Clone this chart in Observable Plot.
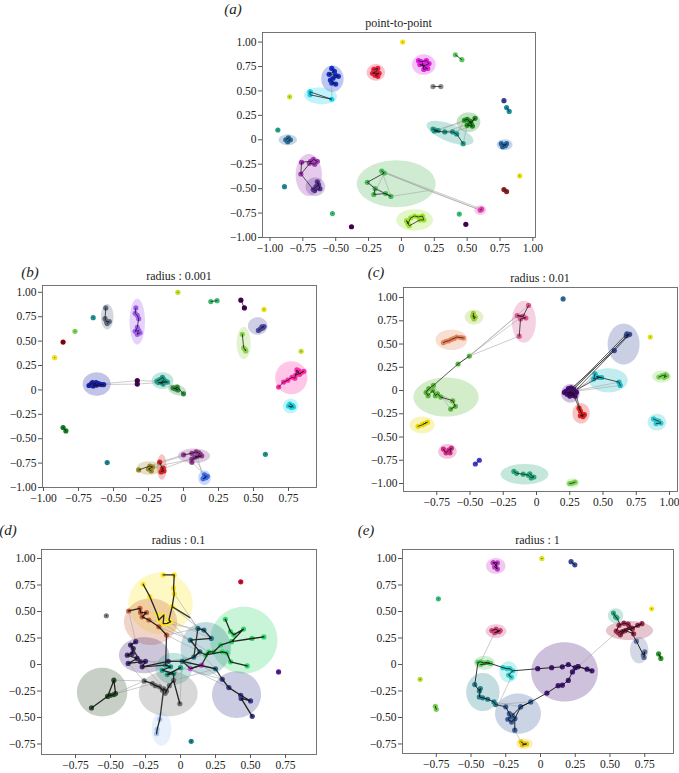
<!DOCTYPE html>
<html><head><meta charset="utf-8">
<script src="https://cdn.jsdelivr.net/npm/d3@7"></script>
<script src="https://cdn.jsdelivr.net/npm/@observablehq/plot@0.6"></script>
<style>
body{margin:0;background:#fff;}
#fig{position:relative;width:679px;height:773px;font-family:"Liberation Serif","DejaVu Serif",serif;color:#222;overflow:hidden;}
.pl{position:absolute;}
.lab{position:absolute;font-style:italic;font-size:15px;transform:translate(-50%,-50%);white-space:nowrap;}
.ttl{position:absolute;font-size:12px;transform:translate(-50%,-50%);white-space:nowrap;}
</style></head><body><div id="fig"></div>
<script>
// ---------- Panel (a) point-to-point ----------
const colA = {mag:"#e21ee2",red:"#e8213c",blue:"#1530c8",cyan:"#19d3f0",steel:"#2d6d9a",purple:"#a23cb4",indigo:"#5a3296",bigGreen:"#4cba5a",lime:"#9be02d",teal:"#1f9a8a",dgreen:"#1d8c1d",pink:"#e040b0",rblue:"#2565a8",
  yel:"#f7e11a",gpair:"#5ec962",gray:"#8a8a8a",yg:"#c8e020",teal1:"#20a386",teal2:"#1f8a9a",green1:"#3cbb75",dpp1:"#440154",green2:"#3cbb75",dpp2:"#440154",navy:"#3b3b8f",tpair:"#1f8f9f",yel2:"#e2e21a",brown:"#8b2020"};
const ellA = [
 ["mag",0.17,0.77,0.09,0.105,0],["red",-0.195,0.69,0.07,0.085,0],["blue",-0.525,0.625,0.085,0.135,0],
 ["cyan",-0.615,0.45,0.125,0.085,-5],["steel",-0.865,0.0,0.07,0.055,0],["purple",-0.705,-0.36,0.1,0.215,0],
 ["indigo",-0.655,-0.48,0.075,0.095,0],["bigGreen",-0.04,-0.45,0.3,0.24,0],["lime",0.1,-0.82,0.14,0.11,0],
 ["teal",0.37,0.07,0.2,0.085,-30],["dgreen",0.51,0.18,0.09,0.1,0],["pink",0.6,-0.72,0.045,0.05,0],["rblue",0.785,-0.05,0.06,0.055,0]
];
const ptsA = [
 ["mag",0.13,0.81],["mag",0.15,0.80],["mag",0.19,0.81],["mag",0.21,0.78],["mag",0.18,0.76],["mag",0.14,0.77],["mag",0.2,0.73],["mag",0.17,0.72],["mag",0.16,0.785],
 ["red",-0.21,0.72],["red",-0.18,0.73],["red",-0.19,0.70],["red",-0.22,0.68],["red",-0.17,0.68],["red",-0.2,0.66],["red",-0.18,0.65],
 ["blue",-0.53,0.73],["blue",-0.51,0.70],["blue",-0.55,0.67],["blue",-0.5,0.66],["blue",-0.48,0.65],["blue",-0.52,0.63],["blue",-0.54,0.61],["blue",-0.5,0.57],["blue",-0.53,0.58],
 ["cyan",-0.695,0.49],["cyan",-0.695,0.46],["cyan",-0.53,0.415],["cyan",-0.695,0.49],
 ["steel",-0.88,0.0],["steel",-0.86,0.02],["steel",-0.845,0.0],["steel",-0.865,-0.02],
 ["purple",-0.69,-0.22],["purple",-0.76,-0.23],["purple",-0.765,-0.35],["purple",-0.67,-0.20],["purple",-0.64,-0.22],["purple",-0.66,-0.25],["purple",-0.7,-0.24],
 ["indigo",-0.67,-0.51],["indigo",-0.65,-0.48],["indigo",-0.63,-0.46],["indigo",-0.64,-0.43],["indigo",-0.62,-0.5],["indigo",-0.66,-0.52],
 ["bigGreen",-0.15,-0.32],["bigGreen",-0.13,-0.34],["bigGreen",-0.26,-0.435],["bigGreen",-0.2,-0.5],["bigGreen",-0.21,-0.56],["bigGreen",-0.12,-0.55],["bigGreen",-0.08,-0.58],
 ["lime",0.04,-0.83],["lime",0.05,-0.86],["lime",0.07,-0.8],["lime",0.1,-0.78],["lime",0.13,-0.79],["lime",0.16,-0.78],["lime",0.17,-0.82],["lime",0.14,-0.82],["lime",0.06,-0.88],["lime",0.04,-0.83],
 ["teal",0.24,0.11],["teal",0.26,0.1],["teal",0.28,0.095],["teal",0.25,0.09],["teal",0.33,0.08],["teal",0.39,0.08],["teal",0.42,0.06],["teal",0.47,-0.04],
 ["dgreen",0.48,0.2],["dgreen",0.5,0.21],["dgreen",0.53,0.17],["dgreen",0.56,0.22],["dgreen",0.5,0.15],["dgreen",0.54,0.14],["dgreen",0.52,0.19],
 ["pink",0.6,-0.72],["pink",0.61,-0.71],
 ["rblue",0.76,-0.04],["rblue",0.79,-0.06],["rblue",0.8,-0.04],["rblue",0.77,-0.07],
 ["yel",0.01,1.0],["gpair",0.41,0.87],["gpair",0.46,0.82],["gray",0.24,0.545],["gray",0.30,0.545],["yg",-0.85,0.44],
 ["teal1",-0.94,0.1],["teal2",-0.89,-0.48],["green1",-0.525,-0.755],["dpp1",-0.38,-0.89],["green2",0.44,-0.76],["dpp2",0.49,-0.865],
 ["navy",0.78,0.40],["tpair",0.80,0.33],["tpair",0.82,0.29],["yel2",0.9,-0.37],["brown",0.78,-0.51],["brown",0.8,-0.53]
];
const grayA = [
 [0.28,0.095,0.5,0.21],[0.33,0.08,0.53,0.17],[0.39,0.08,0.54,0.14],[0.47,-0.04,0.5,0.15],[0.42,0.06,0.48,0.2],[0.26,0.1,0.56,0.22],
 [0.205,-0.52,0.6,-0.72],[-0.13,-0.34,0.6,-0.72],[-0.15,-0.32,0.61,-0.71],
 [-0.15,-0.32,-0.08,-0.58],[-0.13,-0.34,-0.21,-0.56],[-0.26,-0.435,-0.12,-0.55],[-0.15,-0.32,0.205,-0.52],[-0.08,-0.58,0.205,-0.52],
 [-0.53,0.415,-0.53,0.58]
];
const blackA = [[-0.765,-0.35,-0.67,-0.51],[-0.2,-0.5,-0.08,-0.58]];

// ---------- Panel (b) radius : 0.001 ----------
const colB = {slate:"#5f6b7f",violet:"#a35cf0",slateblue:"#4a4aa0",lgreen:"#8fd14f",pink:"#ff2ba6",cyan:"#19d5e5",navy:"#1a22a8",teal:"#1f9e89",green:"#2e8b3a",plum:"#8e3b8e",red:"#d62728",olive:"#9c8b2a",rblue:"#3d6ff0",
  yg1:"#c2df23",gpair:"#3dbc74",dpp:"#440154",yel1:"#e6e419",teal1:"#21918c",lg1:"#7ad151",maroon:"#7a0a0a",yel2:"#f0e020",yg2:"#c2df23",teal2:"#21918c",dgpair:"#0f7f1f",teal3:"#1f7f8f",dpp2:"#440154"};
const ellB = [
 ["slate",-0.545,0.75,0.045,0.13,0],["violet",-0.33,0.70,0.055,0.235,0],["slateblue",0.53,0.655,0.07,0.09,0],
 ["lgreen",0.43,0.48,0.05,0.165,0],["pink",0.77,0.125,0.115,0.17,0],["cyan",0.765,-0.165,0.055,0.075,0],
 ["navy",-0.62,0.06,0.1,0.12,0],["teal",-0.15,0.095,0.078,0.085,0],["green",-0.045,0.0,0.07,0.05,-35],
 ["plum",0.075,-0.675,0.115,0.075,0],["red",-0.155,-0.79,0.035,0.13,0],["olive",-0.245,-0.8,0.09,0.07,0],["rblue",0.15,-0.9,0.045,0.075,0]
];
const ptsB = [
 ["slate",-0.555,0.84],["slate",-0.56,0.73],["slate",-0.55,0.70],["slate",-0.53,0.70],["slate",-0.545,0.68],
 ["violet",-0.34,0.84],["violet",-0.345,0.785],["violet",-0.33,0.765],["violet",-0.32,0.73],["violet",-0.33,0.64],["violet",-0.345,0.6],["violet",-0.32,0.61],["violet",-0.33,0.57],["violet",-0.31,0.585],
 ["slateblue",0.535,0.61],["slateblue",0.55,0.625],["slateblue",0.56,0.645],["slateblue",0.575,0.65],["slateblue",0.565,0.635],
 ["lgreen",0.42,0.57],["lgreen",0.43,0.43],["lgreen",0.445,0.40],["lgreen",0.44,0.415],
 ["pink",0.68,0.03],["pink",0.715,0.08],["pink",0.745,0.1],["pink",0.775,0.13],["pink",0.795,0.12],["pink",0.81,0.205],["pink",0.83,0.16],["pink",0.845,0.18],["pink",0.86,0.19],["pink",0.8,0.15],["pink",0.825,0.195],
 ["cyan",0.76,-0.145],["cyan",0.78,-0.16],["cyan",0.77,-0.18],["cyan",0.75,-0.165],["cyan",0.785,-0.175],
 ["navy",-0.675,0.045],["navy",-0.66,0.06],["navy",-0.65,0.075],["navy",-0.64,0.055],["navy",-0.63,0.065],["navy",-0.62,0.05],["navy",-0.61,0.065],["navy",-0.6,0.06],["navy",-0.585,0.055],["navy",-0.57,0.055],["navy",-0.645,0.04],["navy",-0.625,0.075],
 ["teal",-0.19,0.09],["teal",-0.17,0.105],["teal",-0.15,0.13],["teal",-0.14,0.105],["teal",-0.16,0.075],["teal",-0.13,0.09],["teal",-0.115,0.08],["teal",-0.18,0.075],["teal",-0.145,0.06],
 ["green",-0.075,0.02],["green",-0.055,0.01],["green",-0.04,0.0],["green",-0.06,0.015],["green",-0.045,0.03],["green",0.0,-0.04],
 ["plum",0.0,-0.665],["plum",0.06,-0.65],["plum",0.09,-0.635],["plum",0.11,-0.645],["plum",0.12,-0.66],["plum",0.1,-0.68],["plum",0.08,-0.69],["plum",0.13,-0.675],["plum",0.06,-0.71],["plum",0.06,-0.74],
 ["red",-0.17,-0.74],["red",-0.15,-0.81],["red",-0.14,-0.83],["red",-0.16,-0.84],["red",-0.145,-0.8],
 ["olive",-0.32,-0.82],["olive",-0.24,-0.78],["olive",-0.22,-0.79],["olive",-0.25,-0.81],["olive",-0.23,-0.83],
 ["rblue",0.15,-0.87],["rblue",0.16,-0.9],["rblue",0.14,-0.91],["rblue",0.17,-0.885],
 ["yg1",-0.04,1.0],["gpair",0.195,0.905],["gpair",0.24,0.915],["dpp",0.41,0.92],["dpp",0.435,0.84],["yel1",0.575,0.825],
 ["teal1",-0.645,0.74],["lg1",-0.775,0.6],["maroon",-0.86,0.49],["yel2",-0.92,0.33],["yg2",0.84,0.395],["teal2",0.585,-0.66],
 ["dgpair",-0.86,-0.385],["dgpair",-0.84,-0.42],["teal3",-0.545,-0.745],["dpp2",-0.33,0.095],["dpp2",-0.33,0.06]
];
const grayB = [
 [-0.57,0.055,-0.33,0.06],[-0.6,0.06,-0.33,0.095],[-0.33,0.095,-0.19,0.09],[-0.33,0.06,-0.18,0.075],[-0.115,0.08,-0.075,0.02],
 [-0.24,-0.78,0.06,-0.65],[-0.22,-0.79,0.06,-0.71],[-0.15,-0.81,0.08,-0.69],[-0.17,-0.74,0.0,-0.665],
 [0.06,-0.74,0.15,-0.87],[0.08,-0.69,0.16,-0.9],[0.1,-0.68,0.14,-0.91],[-0.22,-0.79,-0.15,-0.81]
];
const blackB = [];

// ---------- Panel (c) radius : 0.01 ----------
const colC = {lg:"#9acd32",pink:"#d9598f",salmon:"#e8845a",green:"#5cb83c",yellow:"#e6d800",mag:"#d6298a",tg:"#2aa87a",lg2:"#7ad151",dblue:"#3b4c9a",cyan:"#1fb8c4",purple:"#4b0a7a",red:"#e02020",lg3:"#7ad151",cyan2:"#2ec4d0",
  blue1:"#31688e",yel1:"#e2e418",green2:"#5cb83c",bpair:"#4040d0"};
const ellC = [
 ["lg",-0.47,0.79,0.07,0.08,0],["pink",-0.095,0.74,0.09,0.225,0],["salmon",-0.64,0.545,0.12,0.11,0],
 ["green",-0.68,-0.07,0.245,0.21,0],["yellow",-0.86,-0.37,0.095,0.09,0],["mag",-0.67,-0.655,0.07,0.08,0],
 ["tg",-0.09,-0.9,0.18,0.11,0],["lg2",0.27,-0.995,0.05,0.05,0],["dblue",0.655,0.5,0.12,0.22,0],
 ["cyan",0.54,0.11,0.145,0.13,0],["purple",0.255,-0.03,0.07,0.1,0],["red",0.335,-0.245,0.065,0.11,0],
 ["lg3",0.94,0.15,0.07,0.065,0],["cyan2",0.905,-0.34,0.07,0.09,0]
];
const ptsC = [
 ["lg",-0.475,0.83],["lg",-0.47,0.77],["lg",-0.46,0.79],["lg",-0.48,0.8],
 ["pink",-0.06,0.915],["pink",-0.1,0.8],["pink",-0.145,0.805],["pink",-0.11,0.795],["pink",-0.08,0.78],["pink",-0.12,0.77],["pink",-0.13,0.585],
 ["salmon",-0.7,0.515],["salmon",-0.68,0.53],["salmon",-0.66,0.535],["salmon",-0.64,0.55],["salmon",-0.62,0.56],["salmon",-0.6,0.575],["salmon",-0.57,0.57],["salmon",-0.55,0.565],
 ["green",-0.775,0.055],["green",-0.81,0.02],["green",-0.83,-0.02],["green",-0.815,-0.055],["green",-0.78,0.0],["green",-0.76,-0.055],["green",-0.745,-0.035],["green",-0.72,-0.07],["green",-0.63,-0.11],["green",-0.61,-0.17],["green",-0.645,-0.2],
 ["yellow",-0.89,-0.385],["yellow",-0.86,-0.37],["yellow",-0.84,-0.355],["yellow",-0.82,-0.34],["yellow",-0.85,-0.36],
 ["mag",-0.7,-0.63],["mag",-0.68,-0.67],["mag",-0.66,-0.64],["mag",-0.64,-0.62],["mag",-0.65,-0.67],
 ["tg",-0.17,-0.87],["tg",-0.15,-0.89],["tg",-0.1,-0.9],["tg",-0.06,-0.91],["tg",-0.04,-0.94],["tg",-0.02,-0.93],["tg",-0.05,-0.895],
 ["lg2",0.25,-1.0],["lg2",0.27,-0.995],["lg2",0.29,-0.985],
 ["dblue",0.68,0.61],["dblue",0.69,0.6],["dblue",0.675,0.59],["dblue",0.7,0.605],["dblue",0.585,0.43],
 ["cyan",0.44,0.18],["cyan",0.43,0.125],["cyan",0.47,0.14],["cyan",0.49,0.14],["cyan",0.45,0.15],["cyan",0.62,0.09],["cyan",0.63,0.055],
 ["purple",0.22,-0.01],["purple",0.24,0.02],["purple",0.26,0.03],["purple",0.28,0.01],["purple",0.3,-0.02],["purple",0.27,-0.05],["purple",0.25,-0.06],["purple",0.23,-0.04],["purple",0.29,-0.06],["purple",0.26,-0.01],["purple",0.24,-0.03],["purple",0.28,-0.03],["purple",0.21,-0.02],
 ["red",0.32,-0.19],["red",0.33,-0.22],["red",0.34,-0.25],["red",0.35,-0.28],["red",0.33,-0.27],["red",0.36,-0.26],
 ["lg3",0.92,0.145],["lg3",0.945,0.16],["lg3",0.97,0.17],["lg3",0.96,0.14],["lg3",0.98,0.155],
 ["cyan2",0.88,-0.305],["cyan2",0.9,-0.32],["cyan2",0.92,-0.33],["cyan2",0.935,-0.35],["cyan2",0.9,-0.355],
 ["blue1",0.2,0.985],["yel1",0.855,0.575],["green2",-0.59,0.285],["green2",-0.505,0.37],["bpair",-0.46,-0.79],["bpair",-0.43,-0.75]
];
const grayC = [
 [-0.505,0.37,-0.06,0.915],[-0.505,0.37,-0.145,0.805],[-0.505,0.37,-0.13,0.585],[-0.59,0.285,-0.11,0.795],
 [-0.775,0.055,-0.645,-0.2],[-0.745,-0.035,-0.61,-0.17],[-0.78,0.0,-0.63,-0.11],
 [0.3,-0.02,0.44,0.18],[0.3,0.0,0.62,0.09],[0.28,-0.01,0.63,0.055],[0.29,0.01,0.43,0.125]
];
const blackC = [
 [-0.59,0.285,-0.775,0.055],[0.3,0.01,0.585,0.43],[0.28,0.03,0.68,0.61],[0.27,0.0,0.69,0.6],[0.26,0.02,0.585,0.43],
 [0.28,-0.05,0.32,-0.19],[0.3,-0.06,0.33,-0.22],[0.29,0.0,0.47,0.14]
];

// ---------- Panel (d) radius : 0.1 ----------
const colD = {yellow:"#fde725",sienna:"#c8603c",sgreen:"#35d86a",tblue:"#2a788e",indigo:"#472c7a",tgreen:"#1fa187",gray:"#6e6e6e",dgreen:"#2f4f2f",slate:"#3e3e8f",lblue:"#a8c8f0",
  mgn:"#e040e0",gray1:"#7f7f7f",crimson:"#c8102e",purp:"#5b1f8a",teal:"#1f7f8f"};
const ellD = [
 ["yellow",-0.143,0.577,0.23,0.29,0],["sienna",-0.214,0.404,0.19,0.22,0],["sgreen",0.452,0.23,0.24,0.315,0],
 ["tblue",0.18,0.15,0.18,0.25,0],["indigo",-0.26,0.088,0.18,0.17,0],["tgreen",-0.048,-0.04,0.13,0.15,0],
 ["gray",-0.088,-0.274,0.21,0.215,0],["dgreen",-0.56,-0.26,0.18,0.23,0],["slate",0.4,-0.284,0.175,0.22,0],["lblue",-0.136,-0.606,0.07,0.16,0]
];
const ptsD = [
 ["yellow",-0.124,0.845],["yellow",-0.045,0.845],["yellow",-0.05,0.72],["yellow",-0.045,0.666],["yellow",-0.06,0.546],["yellow",-0.083,0.42],["yellow",-0.07,0.404],["yellow",-0.095,0.388],["yellow",-0.124,0.385],["yellow",-0.119,0.467],["yellow",-0.155,0.42],["yellow",-0.167,0.473],["yellow",-0.219,0.64],["yellow",-0.267,0.757],
 ["sienna",-0.37,0.505],["sienna",-0.29,0.53],["sienna",-0.286,0.49],["sienna",-0.243,0.49],["sienna",-0.274,0.45],["sienna",-0.226,0.42],["sienna",-0.155,0.356],["sienna",-0.1,0.278],
 ["sgreen",0.32,0.426],["sgreen",0.357,0.31],["sgreen",0.38,0.28],["sgreen",0.45,0.334],["sgreen",0.364,0.215],["sgreen",0.51,0.246],["sgreen",0.595,0.26],["sgreen",0.364,0.215],["sgreen",0.286,0.183],["sgreen",0.238,0.12],["sgreen",0.202,0.12],["sgreen",0.18,0.09],["sgreen",0.298,0.12],["sgreen",0.33,0.11],["sgreen",0.357,0.025],["sgreen",0.476,-0.013],
 ["tblue",0.124,0.34],["tblue",0.167,0.325],["tblue",0.22,0.246],["tblue",0.07,0.23],["tblue",0.138,0.12],["tblue",0.095,0.07],["tblue",0.012,0.03],["tblue",0.25,-0.04],
 ["indigo",-0.32,0.215],["indigo",-0.357,0.183],["indigo",-0.338,0.15],["indigo",-0.345,0.104],["indigo",-0.38,0.088],["indigo",-0.31,0.057],["indigo",-0.374,0.01],["indigo",-0.286,0.025],["indigo",-0.25,0.03],["indigo",-0.274,-0.022],["indigo",-0.088,0.03],
 ["tgreen",-0.107,-0.006],["tgreen",-0.071,-0.022],["tgreen",-0.131,-0.054],["tgreen",-0.048,-0.085],["tgreen",-0.095,-0.095],["tgreen",0.0,-0.03],
 ["mgn",0.07,-0.038],["mgn",0.15,-0.006],
 ["gray",-0.26,-0.155],["gray",-0.2,-0.18],["gray",-0.18,-0.2],["gray",-0.15,-0.21],["gray",-0.13,-0.24],["gray",-0.12,-0.23],["gray",-0.1,-0.25],["gray",-0.11,-0.27],["gray",-0.08,-0.2],["gray",-0.05,-0.15],["gray",-0.005,-0.37],
 ["dgreen",-0.636,-0.41],["dgreen",-0.52,-0.3],["dgreen",-0.5,-0.29],["dgreen",-0.476,-0.284],["dgreen",-0.464,-0.274],["dgreen",-0.476,-0.148],["dgreen",-0.52,-0.3],
 ["slate",0.298,-0.139],["slate",0.345,-0.218],["slate",0.43,-0.29],["slate",0.5,-0.344],["slate",0.433,-0.32],["slate",0.512,-0.489],
 ["lblue",-0.148,-0.517],["lblue",-0.167,-0.612],["lblue",-0.171,-0.653],
 ["gray1",-0.53,0.46],["crimson",0.43,0.78],["purp",0.7,-0.07],["teal",0.076,-0.725]
];
const grayD = [
 [-0.1,0.278,0.124,0.34],[-0.1,0.278,0.138,0.12],[-0.155,0.356,0.07,0.23],[-0.083,0.42,0.22,0.246],[-0.07,0.404,0.25,-0.04],[-0.124,0.385,0.2,0.12],
 [-0.26,-0.155,-0.374,0.01],[-0.26,-0.155,-0.464,-0.274],[-0.26,-0.155,-0.476,-0.148],[-0.2,-0.18,-0.5,-0.29],[-0.1,-0.25,0.012,0.03],[-0.005,-0.37,0.012,0.03],
 [-0.05,-0.15,0.25,-0.04],[-0.05,-0.15,0.138,0.12],[0.0,-0.03,0.298,-0.139],[0.07,-0.038,0.345,-0.218],[0.15,-0.006,0.298,-0.139],[-0.088,0.03,0.18,0.09],
 [-0.25,0.03,0.012,0.03],[-0.31,0.057,-0.107,-0.006],[0.07,0.44,0.124,0.34],[-0.045,0.666,0.124,0.34],[-0.286,0.025,-0.1,-0.25],[-0.37,0.505,-0.32,0.215],
 [-0.226,0.42,0.167,0.325],[-0.06,0.546,0.22,0.246]
];
const blackD = [
 [-0.12,-0.23,-0.148,-0.517],[-0.06,0.546,0.07,0.44],[-0.1,0.278,-0.107,-0.006],[-0.088,0.03,0.012,0.03],[0.012,0.03,0.07,-0.038],[0.07,-0.038,0.15,-0.006],
 [0.15,-0.006,0.202,0.12],[0.138,0.12,0.18,0.09],[0.095,0.07,0.138,0.12],[-0.048,-0.085,-0.05,-0.15],[0.124,0.34,0.095,0.07],[0.25,-0.04,0.298,-0.139],
 [-0.274,-0.022,-0.107,-0.006],[-0.357,0.183,-0.286,0.025]
];

// ---------- Panel (e) radius : 1 ----------
const colE = {mag:"#c43cc8",tg:"#2ea880",maroon:"#a0284a",slate:"#6070a0",pink:"#d0407a",lgreen:"#5ec962",cyan:"#30d0d0",purple:"#46197a",teal:"#26828e",steel:"#3a5f9a",yellow:"#e6c800",
  yel1:"#d8e219",navy:"#3b4c9a",green1:"#3cbb75",yel2:"#f5e51b",gpair:"#2a9a2a",yg:"#b5de2b",lgpair:"#7ad151"};
const ellE = [
 ["mag",-0.322,0.93,0.07,0.075,0],["tg",0.54,0.46,0.055,0.07,0],["maroon",0.64,0.32,0.17,0.09,0],
 ["slate",0.71,0.135,0.066,0.125,0],["pink",-0.32,0.315,0.075,0.065,0],["lgreen",-0.404,0.016,0.075,0.065,0],
 ["cyan",-0.23,-0.07,0.066,0.1,0],["purple",0.173,-0.07,0.24,0.28,0],["teal",-0.415,-0.26,0.12,0.18,0],
 ["steel",-0.162,-0.464,0.165,0.19,0],["yellow",-0.115,-0.748,0.06,0.05,0]
];
const ptsE = [
 ["mag",-0.34,0.96],["mag",-0.31,0.96],["mag",-0.33,0.92],["mag",-0.31,0.9],["mag",-0.32,0.94],["mag",-0.34,0.96],
 ["tg",0.525,0.485],["tg",0.54,0.45],["tg",0.55,0.44],
 ["maroon",0.545,0.315],["maroon",0.565,0.37],["maroon",0.6,0.39],["maroon",0.63,0.38],["maroon",0.66,0.34],["maroon",0.7,0.37],["maroon",0.73,0.385],["maroon",0.66,0.34],["maroon",0.59,0.31],["maroon",0.575,0.28],["maroon",0.61,0.32],["maroon",0.67,0.29],["maroon",0.64,0.35],["maroon",0.56,0.3],
 ["slate",0.69,0.22],["slate",0.74,0.09],["slate",0.75,0.12],["slate",0.745,0.066],
 ["pink",-0.35,0.32],["pink",-0.32,0.335],["pink",-0.3,0.31],["pink",-0.33,0.3],["pink",-0.29,0.32],["pink",-0.31,0.315],
 ["lgreen",-0.45,0.02],["lgreen",-0.43,0.025],["lgreen",-0.41,0.015],["lgreen",-0.38,0.02],["lgreen",-0.36,0.01],["lgreen",-0.43,0.0],
 ["cyan",-0.27,-0.03],["cyan",-0.24,-0.04],["cyan",-0.22,-0.04],["cyan",-0.2,-0.06],["cyan",-0.23,-0.1],["cyan",-0.21,-0.12],
 ["purple",-0.02,-0.04],["purple",0.08,-0.03],["purple",0.157,-0.022],["purple",0.2,0.0],["purple",0.25,-0.03],["purple",0.27,-0.02],["purple",0.335,-0.044],["purple",0.37,-0.06],["purple",0.27,-0.02],["purple",0.23,-0.07],["purple",0.2,-0.15],["purple",0.157,-0.195],["purple",0.127,-0.2],["purple",0.046,-0.27],
 ["teal",-0.473,-0.19],["teal",-0.44,-0.25],["teal",-0.433,-0.227],["teal",-0.44,-0.306],["teal",-0.416,-0.315],["teal",-0.38,-0.328],["teal",-0.335,-0.353],["teal",-0.323,-0.378],
 ["steel",-0.25,-0.4],["steel",-0.224,-0.464],["steel",-0.213,-0.495],["steel",-0.235,-0.517],["steel",-0.208,-0.543],["steel",-0.185,-0.51],["steel",-0.203,-0.48],["steel",-0.143,-0.4],["steel",-0.07,-0.353],["steel",-0.143,-0.4],["steel",-0.185,-0.51],["steel",-0.185,-0.62],
 ["yellow",-0.14,-0.73],["yellow",-0.12,-0.75],["yellow",-0.1,-0.75],["yellow",-0.13,-0.76],
 ["yel1",0.01,1.0],["navy",0.22,0.97],["navy",0.247,0.94],["green1",-0.735,0.62],["yel2",0.8,0.525],["gpair",0.85,0.1],["gpair",0.866,0.057],
 ["yg",-0.866,-0.14],["lgpair",-0.757,-0.394],["lgpair",-0.75,-0.423]
];
const grayE = [
 [-0.33,0.3,-0.43,0.025],[-0.21,-0.12,-0.3,-0.37],[0.27,-0.02,0.545,0.3],[-0.335,-0.353,-0.143,-0.4],[-0.185,-0.62,-0.14,-0.73],[-0.323,-0.378,-0.07,-0.353]
];
const blackE = [
 [-0.36,0.01,-0.27,-0.03],[-0.2,-0.06,-0.02,-0.04],[-0.45,0.02,-0.473,-0.19],[-0.323,-0.378,-0.25,-0.4],[-0.07,-0.353,0.046,-0.27],[0.55,0.44,0.575,0.37],[0.66,0.29,0.69,0.22]
];

// ---------- rendering ----------
const fmt = d => d === 0 ? "0" : d.toFixed(2).replace("-", "\u2212");
const toPts = arr => arr.map(([g, x, y]) => ({g, x, y}));
const toLinks = arr => arr.map(([x1, y1, x2, y2]) => ({x1, y1, x2, y2}));
function ellPoly(e) {
  const [g, cx, cy, rx, ry, ang] = e, a = ang * Math.PI / 180;
  return d3.range(72).map(i => {
    const t = 2 * Math.PI * i / 72, ux = rx * Math.cos(t), uy = ry * Math.sin(t);
    return {g, x: cx + ux * Math.cos(a) - uy * Math.sin(a), y: cy + ux * Math.sin(a) + uy * Math.cos(a)};
  });
}
const T25 = [-1, -0.75, -0.5, -0.25, 0, 0.25, 0.5, 0.75, 1];
const panels = [
  {lab:"(a)", lx:233, ly:9, title:"point-to-point", L:262, T:32, R:535, B:237, xd:[-1.057,1.02], yd:[-1.0,1.098], xt:T25, yt:T25, pts:ptsA, ell:ellA, col:colA, gl:grayA, bl:blackA, cw:0.8},
  {lab:"(b)", lx:30, ly:272, title:"radius : 0.001", L:42, T:285, R:316, B:487, xd:[-1.007,0.95], yd:[-1.0,1.07], xt:T25.slice(0,8), yt:T25, pts:ptsB, ell:ellB, col:colB, gl:grayB, bl:blackB, cw:0.8},
  {lab:"(c)", lx:376, ly:272, title:"radius : 0.01", L:403, T:287, R:677, B:491, xd:[-1.0,1.06], yd:[-1.086,1.108], xt:T25.slice(1), yt:T25, pts:ptsC, ell:ellC, col:colC, gl:grayC, bl:blackC, cw:0.8},
  {lab:"(d)", lx:8, ly:530, title:"radius : 0.1", L:41, T:549, R:316, B:754, xd:[-0.993,0.971], yd:[-0.849,1.085], xt:T25.slice(1,8), yt:T25.slice(1), pts:ptsD, ell:ellD, col:colD, gl:grayD, bl:blackD, cw:1.3},
  {lab:"(e)", lx:366, ly:530, title:"radius : 1", L:402, T:549, R:673, B:753, xd:[-0.993,0.957], yd:[-0.84,1.085], xt:T25.slice(1,8), yt:T25.slice(1), pts:ptsE, ell:ellE, col:colE, gl:grayE, bl:blackE, cw:1.0}
];
const fig = document.getElementById("fig");
const mL = 40, mR = 2, mT = 2, mB = 22;
for (const p of panels) {
  const pts = toPts(p.pts);
  const ellMarks = p.ell.map(e => Plot.line(ellPoly(e), {x:"x", y:"y", curve:"linear-closed", fill:p.col[e[0]], fillOpacity:0.27, stroke:"none", clip:true}));
  const svg = Plot.plot({
    width: p.R - p.L + mL + mR,
    height: p.B - p.T + mT + mB,
    marginLeft: mL, marginRight: mR, marginTop: mT, marginBottom: mB,
    x: {domain: p.xd}, y: {domain: p.yd},
    style: {fontFamily: "'Liberation Serif', 'DejaVu Serif', serif", fontSize: "11.5px", color: "#222", background: "transparent", overflow: "visible"},
    marks: [
      ...ellMarks,
      Plot.link(toLinks(p.gl), {x1:"x1", y1:"y1", x2:"x2", y2:"y2", stroke:"#9a9a9a", strokeWidth:0.6, strokeOpacity:0.85, clip:true}),
      Plot.dot(pts, {x:"x", y:"y", r:2.6, fill:d => p.col[d.g], stroke:"none", clip:true}),
      Plot.line(pts, {x:"x", y:"y", z:"g", stroke:"#111", strokeWidth:p.cw, strokeOpacity:0.9, clip:true}),
      Plot.link(toLinks(p.bl), {x1:"x1", y1:"y1", x2:"x2", y2:"y2", stroke:"#222", strokeWidth:p.cw, strokeOpacity:0.9, clip:true}),
      Plot.frame({stroke:"#666", strokeWidth:0.9}),
      Plot.axisX(p.xt, {tickFormat:fmt, tickSize:4, tickPadding:2, label:null, stroke:"#555"}),
      Plot.axisY(p.yt, {tickFormat:fmt, tickSize:4, tickPadding:2, label:null, stroke:"#555"})
    ]
  });
  svg.classList.add("pl");
  svg.style.left = (p.L - mL) + "px";
  svg.style.top = (p.T - mT) + "px";
  fig.appendChild(svg);
  const t = document.createElement("div");
  t.className = "ttl"; t.textContent = p.title;
  t.style.left = ((p.L + p.R) / 2) + "px"; t.style.top = (p.T - 9) + "px";
  fig.appendChild(t);
  const l = document.createElement("div");
  l.className = "lab"; l.textContent = p.lab;
  l.style.left = p.lx + "px"; l.style.top = p.ly + "px";
  fig.appendChild(l);
}
</script></body></html>
